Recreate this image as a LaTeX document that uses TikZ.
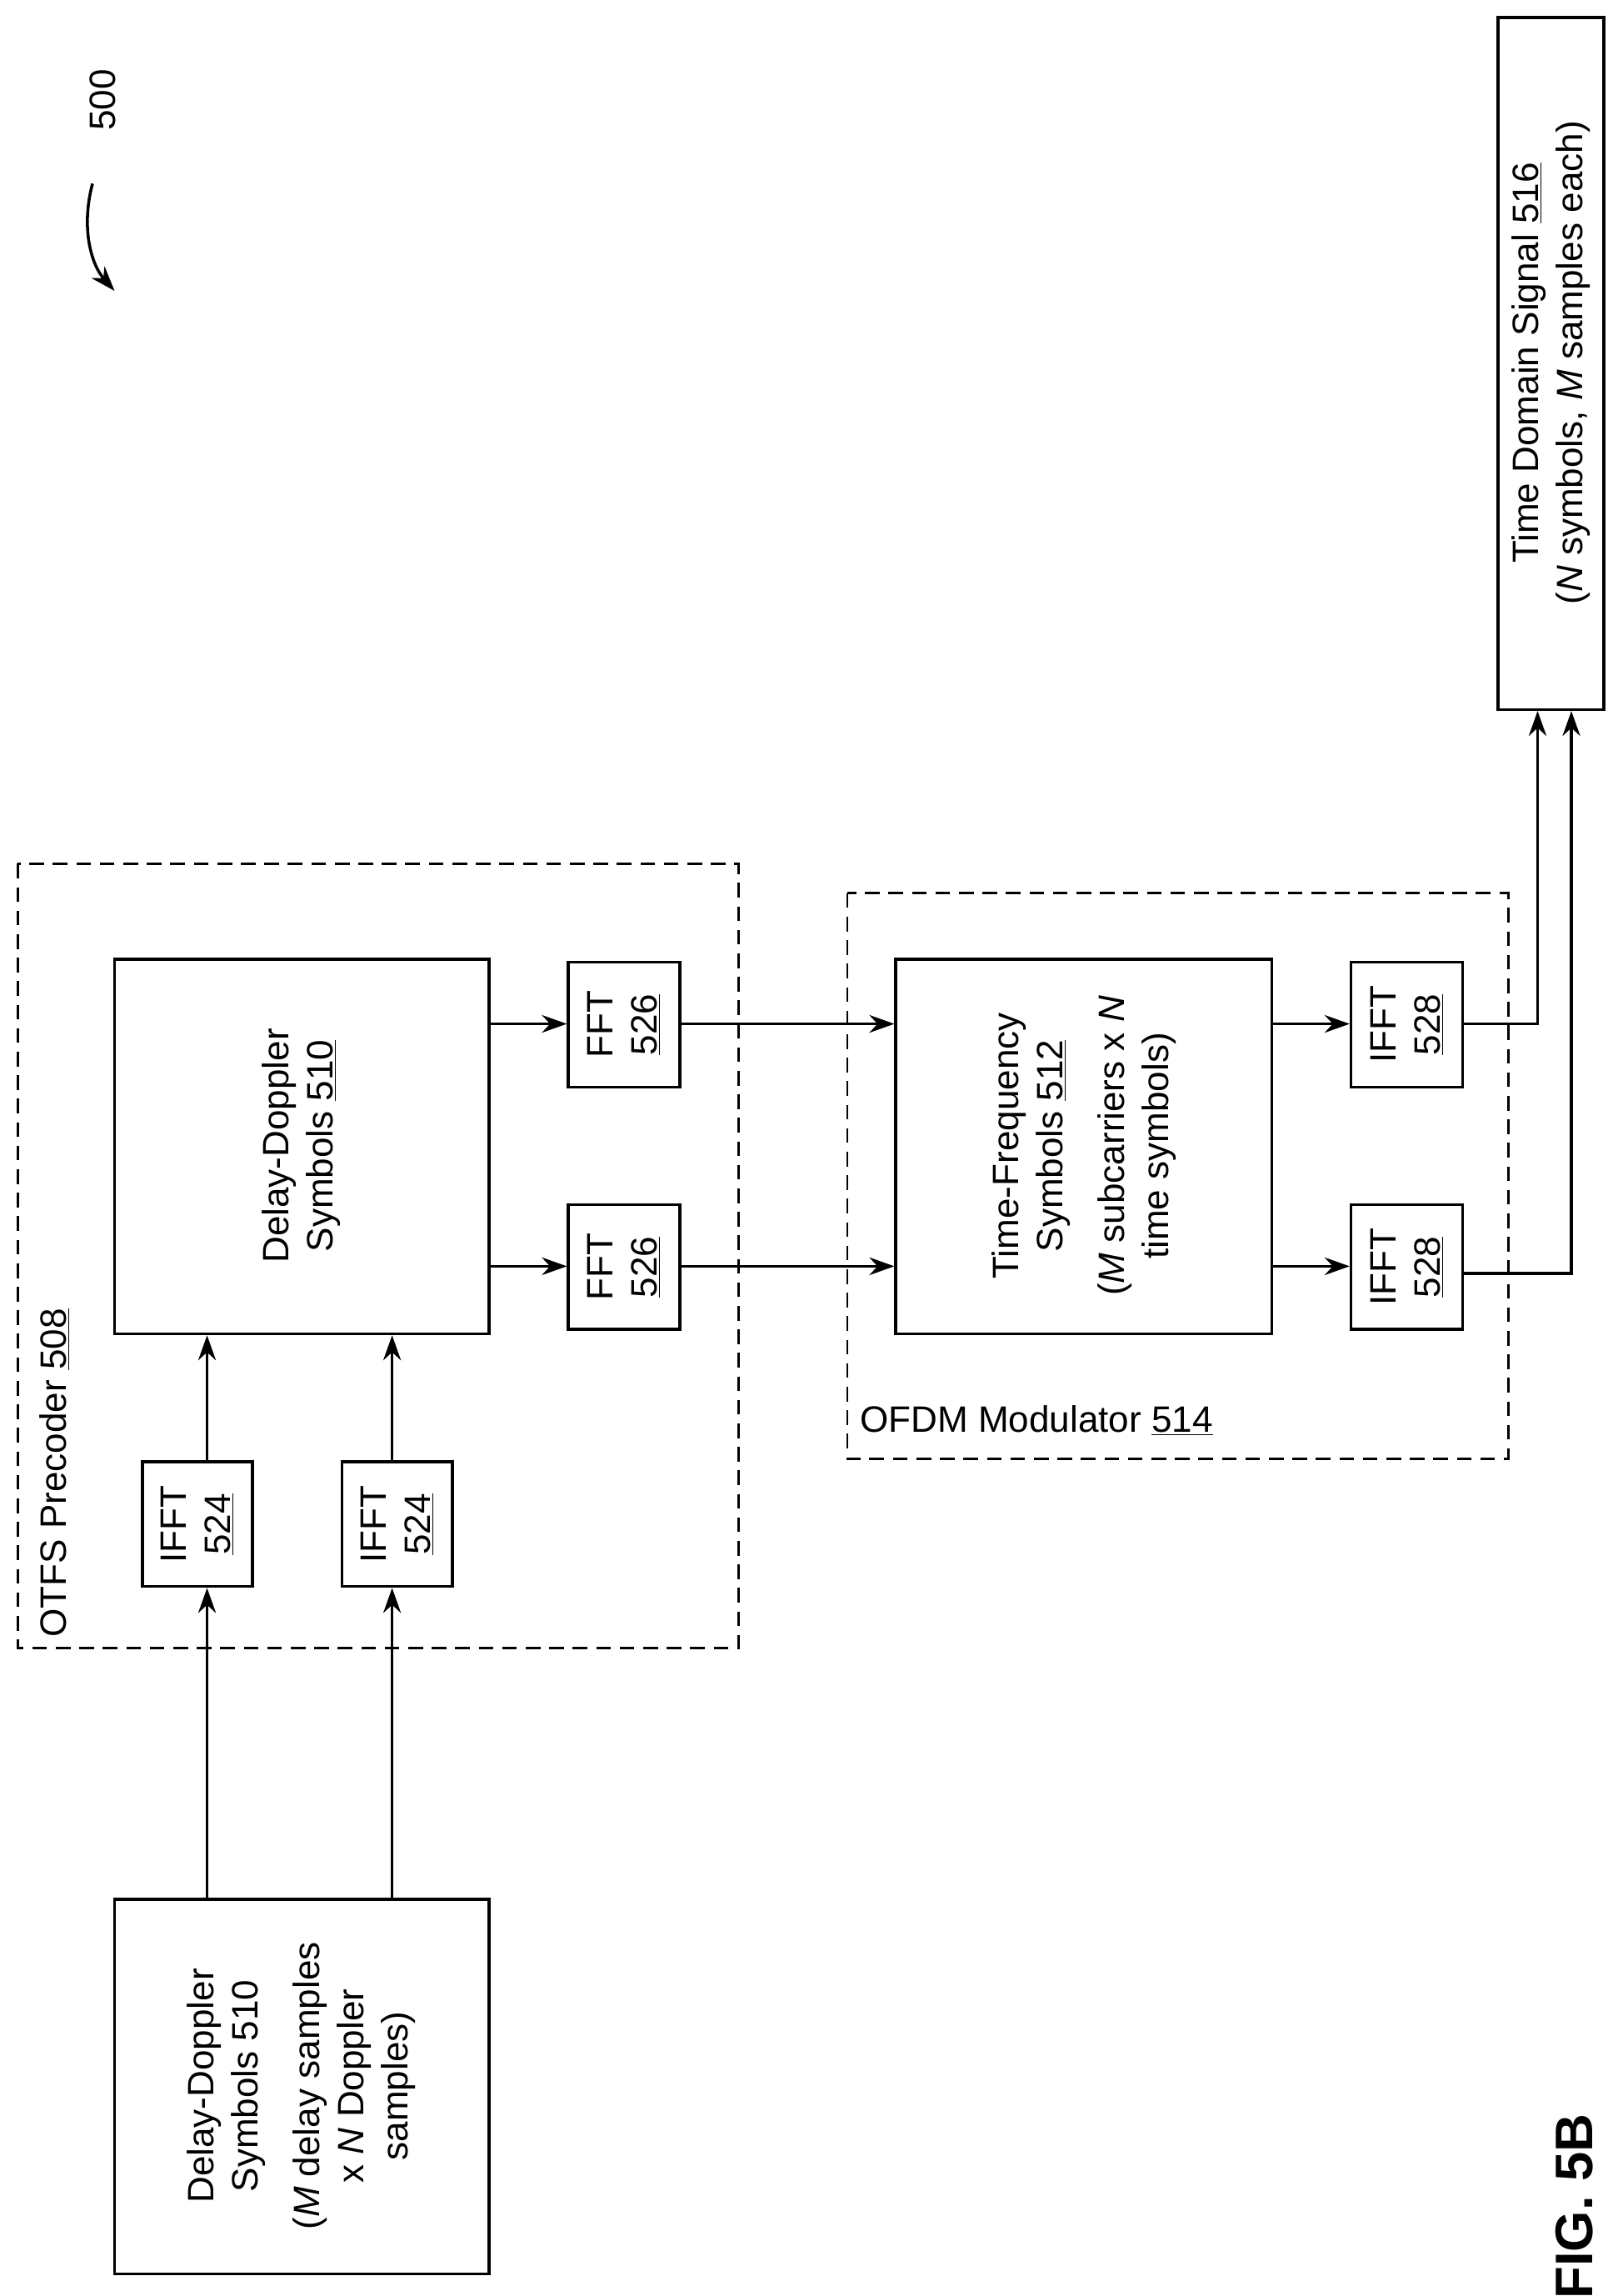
\documentclass[tikz,border=0pt]{standalone}
\usepackage{fontspec}
\setmainfont{Liberation Sans}
\usetikzlibrary{arrows.meta}
\begin{document}
\begin{tikzpicture}[x=1pt,y=-1pt,
  box/.style={draw,line width=2pt},
  dbox/.style={draw,line width=1.6pt,dash pattern=on 10pt off 6pt},
  rt/.style={rotate=90,align=center,font=\fontsize{25}{30}\selectfont},
  arr/.style={-{Stealth[length=17pt,width=12pt]},line width=2pt},
  ln/.style={line width=2pt}]
\useasboundingbox (0,0) rectangle (1105,1563);
% 500
\node[rt] (n500) at (70,68) {500};
\draw[arr] (63,125) .. controls (55,155) and (62,180) .. (78,198);
% input box
\draw[box] (78,1293) rectangle (333,1548);
\node[rt] (in) at (205,1420) {Delay-Doppler\\Symbols 510\\[12pt](\textit{M} delay samples\\x \textit{N} Doppler\\samples)};
% precoder
\draw[dbox] (12,588) rectangle (503,1122);
\node[rt,anchor=west] (pl) at (37,1118) {OTFS Precoder \underline{508}};
\draw[box] (97,995) rectangle (172,1080);
\node[rt] (i1) at (134.5,1037.5) {IFFT\\\underline{524}};
\draw[box] (233,995) rectangle (308,1080);
\node[rt] (i2) at (270.5,1037.5) {IFFT\\\underline{524}};
\draw[box] (78,653) rectangle (333,908);
\node[rt] (dd) at (205,780) {Delay-Doppler\\Symbols \underline{510}};
\draw[arr] (141,1293) -- (141,1081);
\draw[arr] (267,1293) -- (267,1081);
\draw[arr] (141,995) -- (141,909);
\draw[arr] (267,995) -- (267,909);
\draw[box] (387,655) rectangle (463,740);
\node[rt] (f1) at (425,697.5) {FFT\\\underline{526}};
\draw[box] (387,820) rectangle (463,905);
\node[rt] (f2) at (425,862.5) {FFT\\\underline{526}};
\draw[arr] (333,697) -- (386,697);
\draw[arr] (333,862) -- (386,862);
% modulator
\draw[dbox] (577,608) rectangle (1027,993);
\node[anchor=west,font=\fontsize{25}{30}\selectfont] (ol) at (582,967) {OFDM Modulator \underline{514}};
\draw[box] (610,653) rectangle (866,908);
\node[rt] (tf) at (738,780) {Time-Frequency\\Symbols \underline{512}\\[12pt](\textit{M} subcarriers x \textit{N}\\time symbols)};
\draw[arr] (463,697) -- (609,697);
\draw[arr] (463,862) -- (609,862);
\draw[box] (920,655) rectangle (996,740);
\node[rt] (g1) at (958,697.5) {IFFT\\\underline{528}};
\draw[box] (920,820) rectangle (996,905);
\node[rt] (g2) at (958,862.5) {IFFT\\\underline{528}};
\draw[arr] (866,697) -- (919,697);
\draw[arr] (866,862) -- (919,862);
% time domain
\draw[box] (1020,12) rectangle (1092,483);
\node[rt] (td) at (1056,247) {Time Domain Signal \underline{516}\\(\textit{N} symbols, \textit{M} samples each)};
\draw[arr] (996,697) -- (1047,697) -- (1047,484);
\draw[arr] (996,867) -- (1070,867) -- (1070,484);
\node[rotate=90,font=\fontsize{36}{40}\selectfont\bfseries] (fig) at (1072,1502) {FIG. 5B};
\end{tikzpicture}
\end{document}
